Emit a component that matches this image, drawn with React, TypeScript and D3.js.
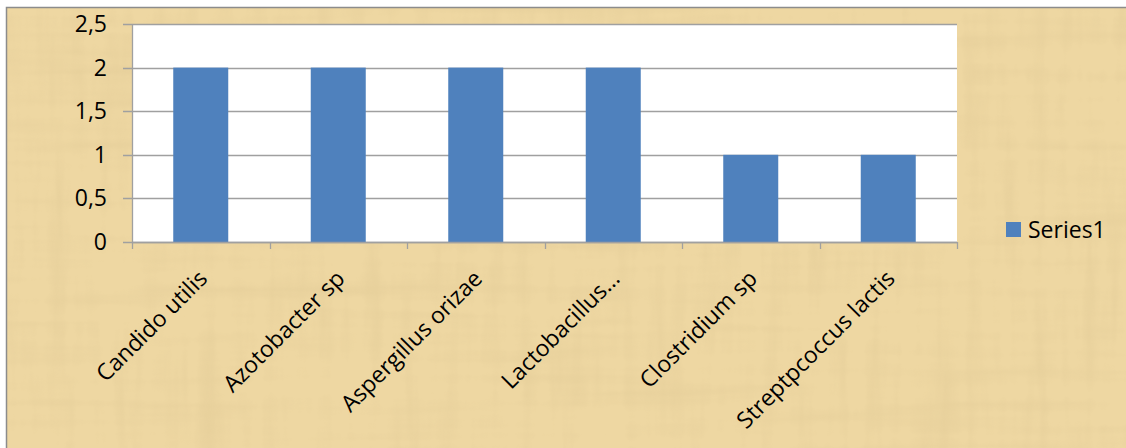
import React, { useEffect, useRef } from "react";
import * as d3 from "d3";

const categories = [
  "Candido utilis",
  "Azotobacter sp",
  "Aspergillus orizae",
  "Lactobacillus…",
  "Clostridium sp",
  "Streptpcoccus lactis",
];
const series1 = [2, 2, 2, 2, 1, 1];
const yTicks = [0, 0.5, 1, 1.5, 2, 2.5];
const seriesName = "Series1";

function App() {
  const ref = useRef<SVGSVGElement>(null);

  useEffect(() => {
    const width = 1126,
      height = 448;
    const plot = { left: 132, right: 957, top: 24, bottom: 242 };
    const font = "'Open Sans', 'Liberation Sans', sans-serif";
    const fs = 23;

    const svg = d3.select(ref.current);
    svg.selectAll("*").remove();

    // parchment-ish background
    const defs = svg.append("defs");
    const f = defs
      .append("filter")
      .attr("id", "paper")
      .attr("x", 0)
      .attr("y", 0)
      .attr("width", "100%")
      .attr("height", "100%");
    f.append("feTurbulence")
      .attr("type", "fractalNoise")
      .attr("baseFrequency", "0.004 0.06")
      .attr("numOctaves", 3)
      .attr("seed", 4)
      .attr("result", "n1");
    f.append("feTurbulence")
      .attr("type", "fractalNoise")
      .attr("baseFrequency", "0.06 0.006")
      .attr("numOctaves", 3)
      .attr("seed", 9)
      .attr("result", "n2");
    f.append("feBlend").attr("in", "n1").attr("in2", "n2").attr("mode", "multiply").attr("result", "n");
    f.append("feColorMatrix")
      .attr("in", "n")
      .attr("type", "matrix")
      .attr("values", "0 0 0 0 0.55  0 0 0 0 0.42  0 0 0 0 0.2  -0.9 0 0 0 0.42");

    svg.append("rect").attr("width", width).attr("height", height).attr("fill", "#fff");
    svg.append("rect")
      .attr("x", 7).attr("y", 7)
      .attr("width", width - 7).attr("height", height - 7)
      .attr("fill", "#eed7a2");
    svg.append("rect")
      .attr("x", 7).attr("y", 7)
      .attr("width", width - 7).attr("height", height - 7)
      .attr("filter", "url(#paper)")
      .attr("opacity", 0.5);
    svg.append("path")
      .attr("d", `M6.5,${height}V7.5H${width}`)
      .attr("fill", "none")
      .attr("stroke", "#8c8c8c")
      .attr("stroke-width", 1.5);

    // plot area
    svg.append("rect")
      .attr("x", plot.left).attr("y", plot.top)
      .attr("width", plot.right - plot.left).attr("height", plot.bottom - plot.top)
      .attr("fill", "#fff");

    const x = d3.scaleBand().domain(categories).range([plot.left, plot.right]).paddingInner(0).paddingOuter(0);
    const y = d3.scaleLinear().domain([0, 2.5]).range([plot.bottom, plot.top]);

    // gridlines + y ticks
    svg.append("g")
      .selectAll("line")
      .data(yTicks)
      .enter()
      .append("line")
      .attr("x1", plot.left - 9)
      .attr("x2", plot.right)
      .attr("y1", (d) => Math.round(y(d)) + 0.5)
      .attr("y2", (d) => Math.round(y(d)) + 0.5)
      .attr("stroke", "#a0a0a0")
      .attr("stroke-width", 1.3);

    svg.append("g")
      .selectAll("text")
      .data(yTicks)
      .enter()
      .append("text")
      .attr("x", plot.left - 25)
      .attr("y", (d) => y(d))
      .attr("dy", "0.35em")
      .attr("text-anchor", "end")
      .attr("font-family", font)
      .attr("font-size", fs)
      .attr("fill", "#000")
      .text((d) => String(d).replace(".", ","));

    // y axis line
    svg.append("line")
      .attr("x1", plot.left + 0.5).attr("x2", plot.left + 0.5)
      .attr("y1", plot.top).attr("y2", plot.bottom)
      .attr("stroke", "#a0a0a0").attr("stroke-width", 1.3);

    // bars
    const bw = x.bandwidth() * 0.4;
    svg.append("g")
      .selectAll("rect")
      .data(series1)
      .enter()
      .append("rect")
      .attr("x", (d, i) => (x(categories[i]) as number) + (x.bandwidth() - bw) / 2)
      .attr("y", (d) => y(d))
      .attr("width", bw)
      .attr("height", (d) => y(0) - y(d))
      .attr("fill", "#4f81bd");

    // x axis with ticks between categories
    svg.append("line")
      .attr("x1", plot.left).attr("x2", plot.right)
      .attr("y1", plot.bottom + 0.5).attr("y2", plot.bottom + 0.5)
      .attr("stroke", "#a0a0a0").attr("stroke-width", 1.3);
    const bounds = categories.map((c) => x(c) as number).concat([plot.right]);
    svg.append("g")
      .selectAll("line")
      .data(bounds)
      .enter()
      .append("line")
      .attr("x1", (d) => Math.round(d) + 0.5)
      .attr("x2", (d) => Math.round(d) + 0.5)
      .attr("y1", plot.bottom)
      .attr("y2", plot.bottom + 7)
      .attr("stroke", "#a0a0a0")
      .attr("stroke-width", 1.3);

    // rotated category labels
    svg.append("g")
      .selectAll("text")
      .data(categories)
      .enter()
      .append("text")
      .attr("transform", (d) => {
        const cx = (x(d) as number) + x.bandwidth() / 2 + 8;
        return `translate(${cx},${plot.bottom + 38}) rotate(-45)`;
      })
      .attr("text-anchor", "end")
      .attr("font-family", font)
      .attr("font-size", fs)
      .attr("fill", "#000")
      .text((d) => d);

    // legend
    const lg = svg.append("g").attr("transform", "translate(1006,222)");
    lg.append("rect").attr("width", 15).attr("height", 15).attr("fill", "#4f81bd");
    lg.append("text")
      .attr("x", 22)
      .attr("y", 7.5)
      .attr("dy", "0.35em")
      .attr("font-family", font)
      .attr("font-size", fs)
      .attr("fill", "#000")
      .text(seriesName);
  }, []);

  return (
    <svg
      ref={ref}
      width={1126}
      height={448}
      style={{ position: "absolute", left: 0, top: 0, display: "block" }}
    />
  );
}

export default App;
